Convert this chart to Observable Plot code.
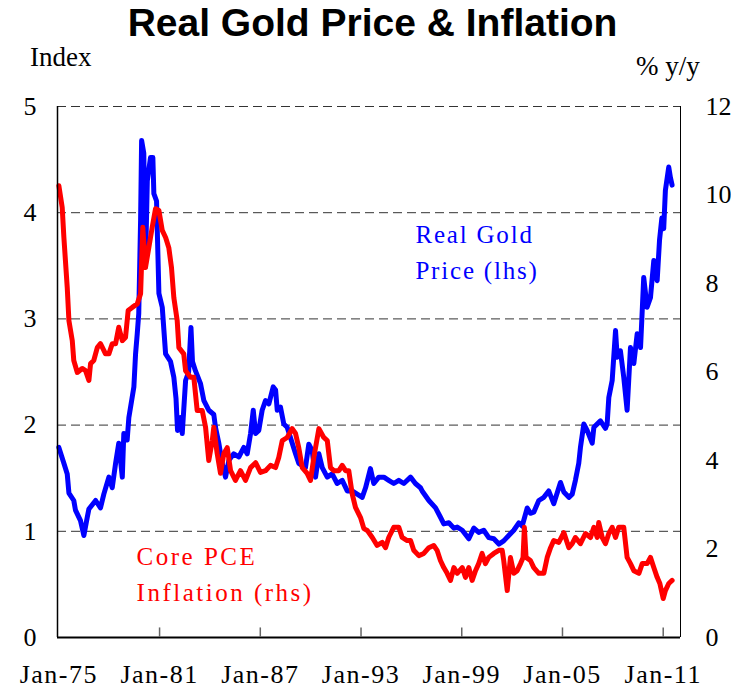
<!DOCTYPE html>
<html>
<head>
<meta charset="utf-8">
<script src="https://cdn.jsdelivr.net/npm/d3@7"></script>
<script src="https://cdn.jsdelivr.net/npm/@observablehq/plot@0.6"></script>
<style>
  body { margin: 0; background: #fff; }
  #wrap { position: relative; width: 731px; height: 692px; overflow: hidden; }
  .ovl { position: absolute; white-space: nowrap; color: #000; }
  #title { top: 3px; left: 0; width: 745px; text-align: center; font: bold 39px/39px "Liberation Sans", Arial, sans-serif; }
  #lhsLab { top: 43px; left: 30px; font: 27px/28px "Liberation Serif", "Times New Roman", serif; }
  #rhsLab { top: 52px; left: 636px; font: 27px/28px "Liberation Serif", "Times New Roman", serif; }
</style>
</head>
<body>
<div id="wrap">
  <div id="chart"></div>
  <div class="ovl" id="title">Real Gold Price &amp; Inflation</div>
  <div class="ovl" id="lhsLab">Index</div>
  <div class="ovl" id="rhsLab">% y/y</div>
</div>
<script>
// ---------- data ----------
const goldYears = [1975.00,1975.30,1975.50,1975.60,1975.89,1975.99,1976.29,1976.49,1976.69,1976.79,
1977.19,1977.48,1977.68,1977.98,1978.18,1978.38,1978.57,1978.78,1978.87,1979.07,
1979.17,1979.47,1979.57,1979.67,1979.76,1979.87,1979.93,1980.06,1980.16,1980.27,
1980.46,1980.60,1980.66,1980.82,1980.96,1981.16,1981.36,1981.65,1981.85,1981.98,
1982.07,1982.25,1982.35,1982.55,1982.73,1982.87,1982.96,1983.14,1983.44,1983.64,
1983.93,1984.23,1984.33,1984.53,1984.73,1984.93,1985.13,1985.42,1985.72,1986.02,
1986.22,1986.42,1986.58,1986.72,1986.91,1987.11,1987.31,1987.51,1987.77,1987.91,
1988.01,1988.20,1988.40,1988.60,1988.80,1989.10,1989.29,1989.69,1989.89,1990.09,
1990.29,1990.49,1990.69,1990.99,1991.28,1991.58,1991.88,1992.18,1992.47,1992.77,
1993.07,1993.27,1993.56,1993.76,1994.06,1994.36,1994.65,1994.95,1995.25,1995.55,
1995.95,1996.24,1996.54,1996.64,1997.04,1997.44,1997.74,1997.93,1998.23,1998.53,
1998.73,1999.03,1999.42,1999.72,2000.01,2000.31,2000.61,2000.91,2001.21,2001.50,
2001.80,2002.10,2002.40,2002.60,2002.90,2003.09,2003.29,2003.59,2003.89,2004.18,
2004.48,2004.88,2005.08,2005.38,2005.58,2005.77,2005.97,2006.07,2006.27,2006.47,
2006.77,2006.87,2007.26,2007.56,2007.66,2007.76,2007.96,2008.16,2008.26,2008.45,
2008.65,2008.85,2009.05,2009.25,2009.45,2009.65,2009.84,2010.04,2010.24,2010.44,
2010.64,2010.78,2010.92,2011.03,2011.13,2011.33,2011.43,2011.53];
const goldIndex = [1.79,1.64,1.54,1.36,1.29,1.20,1.10,0.96,1.13,1.21,
1.29,1.22,1.35,1.51,1.41,1.64,1.83,1.51,1.92,1.86,
2.07,2.36,2.67,2.86,3.05,3.93,4.68,4.56,3.49,4.30,
4.52,4.52,4.18,4.11,3.24,3.11,2.67,2.60,2.45,2.25,
1.95,2.07,1.92,2.42,2.50,2.92,2.60,2.51,2.39,2.23,
2.14,2.10,1.98,1.83,1.64,1.51,1.67,1.73,1.70,1.79,
1.73,1.92,2.14,1.92,1.95,2.14,2.23,2.20,2.36,2.33,
2.14,2.17,2.01,1.98,1.88,1.73,1.64,1.60,1.82,1.76,
1.51,1.73,1.60,1.51,1.54,1.45,1.48,1.38,1.38,1.35,
1.32,1.41,1.59,1.45,1.51,1.51,1.48,1.45,1.48,1.45,
1.51,1.45,1.41,1.38,1.29,1.22,1.13,1.07,1.08,1.03,
1.04,1.01,0.93,1.03,0.99,1.01,0.94,0.93,0.88,0.91,
0.96,1.01,1.08,1.05,1.22,1.17,1.18,1.29,1.32,1.38,
1.26,1.46,1.37,1.32,1.35,1.48,1.64,1.79,2.01,1.95,
1.83,1.98,2.04,1.97,2.01,2.26,2.42,2.89,2.64,2.70,
2.45,2.14,2.73,2.58,2.86,2.73,3.39,3.11,3.20,3.55,
3.36,3.74,3.95,3.85,4.21,4.43,4.33,4.26];

const pceYears = [1975.00,1975.20,1975.30,1975.50,1975.60,1975.80,1975.89,1976.10,1976.39,1976.59,
1976.79,1976.89,1977.08,1977.29,1977.48,1977.68,1977.78,1977.98,1978.18,1978.38,
1978.57,1978.78,1978.97,1979.13,1979.37,1979.67,1979.87,1980.00,1980.16,1980.36,
1980.56,1980.76,1980.96,1981.16,1981.36,1981.55,1981.71,1981.85,1982.05,1982.15,
1982.44,1982.55,1982.84,1983.04,1983.24,1983.54,1983.74,1983.93,1984.14,1984.23,
1984.43,1984.63,1984.83,1985.03,1985.23,1985.52,1985.82,1986.12,1986.42,1986.72,
1987.01,1987.31,1987.61,1987.91,1988.10,1988.31,1988.60,1988.90,1989.10,1989.29,
1989.50,1989.79,1989.99,1990.19,1990.49,1990.78,1990.99,1991.18,1991.38,1991.68,
1991.88,1992.08,1992.27,1992.47,1992.67,1992.97,1993.17,1993.37,1993.67,1993.96,
1994.26,1994.46,1994.65,1994.95,1995.25,1995.45,1995.75,1995.95,1996.14,1996.44,
1996.74,1997.04,1997.33,1997.53,1997.73,1997.93,1998.13,1998.33,1998.53,1998.73,
1999.03,1999.22,1999.42,1999.62,1999.82,2000.01,2000.21,2000.41,2000.61,2000.91,
2001.21,2001.41,2001.50,2001.71,2001.90,2002.10,2002.30,2002.50,2002.65,2002.73,
2002.83,2003.09,2003.29,2003.59,2003.89,2004.09,2004.29,2004.48,2004.78,2005.08,
2005.38,2005.58,2005.77,2006.07,2006.37,2006.67,2006.87,2007.07,2007.16,2007.37,
2007.56,2007.76,2007.96,2008.16,2008.35,2008.65,2008.85,2009.05,2009.25,2009.55,
2009.75,2010.04,2010.24,2010.44,2010.64,2010.80,2011.00,2011.13,2011.33,2011.53];
const pceInflation = [10.21,9.72,9.04,7.91,7.16,6.71,6.26,5.99,6.08,6.03,
5.81,6.19,6.26,6.55,6.64,6.49,6.41,6.41,6.64,6.64,
7.01,6.71,6.78,7.39,7.46,7.54,7.77,9.27,8.36,8.81,
9.27,9.69,9.65,9.20,9.04,8.81,8.36,7.68,7.16,6.55,
6.41,6.03,5.88,5.88,5.13,5.13,4.75,4.00,4.45,4.75,
4.16,3.71,4.16,4.29,3.77,3.55,3.77,3.55,3.84,3.95,
3.73,3.77,3.89,3.84,4.07,4.45,4.52,4.72,4.61,4.29,
3.84,3.71,3.55,4.07,4.72,4.52,4.45,3.84,3.77,3.77,
3.89,3.77,3.77,3.25,2.94,2.71,2.46,2.42,2.26,2.08,
2.15,2.03,2.26,2.49,2.49,2.26,2.19,2.19,1.97,1.85,
1.90,2.03,2.08,1.97,1.74,1.58,1.45,1.29,1.58,1.45,
1.58,1.36,1.58,1.29,1.51,1.67,1.90,1.67,1.81,1.90,
1.97,1.97,1.74,1.06,1.81,1.45,1.51,1.67,1.80,2.49,
1.81,1.74,1.58,1.45,1.45,1.81,2.03,2.19,2.15,2.37,
2.03,2.12,2.26,2.12,2.35,2.26,2.49,2.26,2.60,2.26,
2.12,2.35,2.49,2.26,2.49,2.49,1.81,1.67,1.51,1.45,
1.67,1.67,1.81,1.58,1.36,1.22,0.88,1.06,1.22,1.29];

const tickYears = [1975, 1981, 1987, 1993, 1999, 2005, 2011];
const tickLabels = ["Jan-75", "Jan-81", "Jan-87", "Jan-93", "Jan-99", "Jan-05", "Jan-11"];
const leftTicks = [0, 1, 2, 3, 4, 5];
const rightTicks = [0, 2, 4, 6, 8, 10, 12];
const xExtent = [1974.92, 2012.03];
const goldLabel = {text: "Real Gold\nPrice (lhs)", year: 1996.24, value: 3.95};
const pceLabel  = {text: "Core PCE\nInflation (rhs)", year: 1979.63, value: 0.93};

// ---------- build ----------
const RATIO = rightTicks[rightTicks.length - 1] / leftTicks[leftTicks.length - 1];
const gold = goldYears.map((t, i) => ({t, v: goldIndex[i]}));
const pce = pceYears.map((t, i) => ({t, v: pceInflation[i] / RATIO}));
const labelOf = new Map(tickYears.map((y, i) => [y, tickLabels[i]]));

const chart = Plot.plot({
  width: 731,
  height: 692,
  marginTop: 106,
  marginBottom: 55,
  marginLeft: 57,
  marginRight: 51,
  style: {fontFamily: '"Liberation Serif", "Times New Roman", serif', fontSize: "26px", color: "#000", background: "#fff"},
  x: {type: "linear", domain: xExtent},
  y: {domain: [0, 5]},
  marks: [
    Plot.ruleY(leftTicks.filter(d => d > 0), {stroke: "#333", strokeWidth: 1, strokeDasharray: "9,5"}),
    Plot.line(gold, {x: "t", y: "v", stroke: "#0000ff", strokeWidth: 5, strokeLinejoin: "round", strokeLinecap: "round"}),
    Plot.line(pce, {x: "t", y: "v", stroke: "#ff0000", strokeWidth: 5, strokeLinejoin: "round", strokeLinecap: "round"}),
    Plot.ruleY([0], {stroke: "#000", strokeWidth: 2}),
    Plot.ruleX([xExtent[0]], {stroke: "#000", strokeWidth: 1.5}),
    Plot.ruleX([xExtent[1]], {stroke: "#000", strokeWidth: 1}),
    Plot.ruleX(tickYears.slice(1), {y1: 0, y2: 0.09, stroke: "#666", strokeWidth: 1.5}),
    Plot.axisY(leftTicks, {anchor: "left", tickSize: 0, tickPadding: 21, label: null, tickFormat: d => String(d)}),
    Plot.axisY(rightTicks.map(d => d / RATIO), {anchor: "right", tickSize: 0, tickPadding: 25, label: null, tickFormat: d => String(Math.round(d * RATIO))}),
    Plot.axisX(tickYears, {anchor: "bottom", tickSize: 0, tickPadding: 27, label: null, tickFormat: d => labelOf.get(d)}),
    Plot.text([goldLabel], {x: "year", y: "value", text: "text", fill: "#0000ff", fontSize: 25, textAnchor: "start", lineAnchor: "top", lineHeight: 1.42}),
    Plot.text([pceLabel], {x: "year", y: "value", text: "text", fill: "#ff0000", fontSize: 25, textAnchor: "start", lineAnchor: "top", lineHeight: 1.46})
  ]
});

const textGroups = d3.select(chart).selectAll('g[aria-label="text"]');
textGroups.filter((d, i) => i === 0).selectAll("text").style("letter-spacing", "1.8px");
textGroups.filter((d, i) => i === 1).selectAll("text").style("letter-spacing", "2.5px");
d3.select(chart).selectAll('g[aria-label="x-axis tick label"] text').style("letter-spacing", "1.5px");
document.getElementById("chart").appendChild(chart);
</script>
</body>
</html>
